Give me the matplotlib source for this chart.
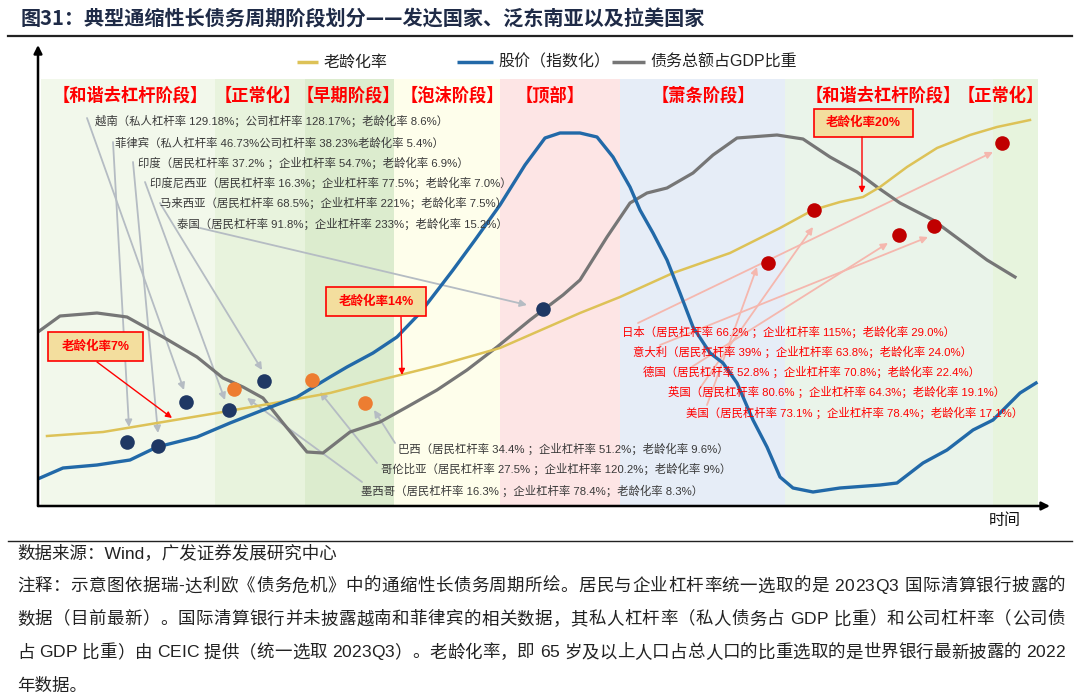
import matplotlib
matplotlib.use('Agg')
import matplotlib.pyplot as plt
from matplotlib.patches import Rectangle
from matplotlib.lines import Line2D

plt.rcParams['font.family'] = ['Liberation Sans', 'Noto Sans CJK SC']

# ---------------- data (schematic units: time 0-100, level 0-85) ----------------
aging_t = [0.9, 6.5, 12.5, 17.9, 24.2, 29.2, 34.2, 40.2, 46.2, 54.2, 58.2, 63.5, 69.2,
           74.2, 77.5, 80.2, 82.5, 84.2, 86.9, 89.9, 93.2, 95.9, 99.2]
aging_v = [14.0, 14.8, 16.8, 18.6, 20.8, 22.6, 25.2, 28.2, 31.6, 38.6, 41.8, 46.6, 50.6,
           55.6, 59.2, 60.8, 61.8, 63.8, 67.8, 71.6, 74.2, 75.8, 77.2]

stock_t = [0.2, 2.5, 5.9, 9.2, 11.9, 15.9, 19.2, 22.5, 25.9, 29.2, 30.9, 33.5, 35.9, 38.2,
           40.2, 41.5, 43.7, 46.2, 48.7, 50.7, 52.2, 54.2, 55.9, 57.5, 59.2, 60.2, 61.5,
           62.9, 64.2, 65.5, 67.2, 68.5, 69.9, 71.5, 72.9, 74.2, 75.5, 77.5, 80.2, 84.2,
           85.9, 88.5, 90.9, 93.5, 95.5, 98.2, 99.8]
stock_v = [5.6, 7.6, 8.2, 9.2, 11.8, 13.8, 16.6, 19.2, 21.8, 25.8, 27.8, 30.6, 33.8, 38.6,
           43.8, 47.2, 53.2, 60.2, 68.2, 73.6, 74.6, 74.6, 73.8, 69.8, 63.8, 59.2, 54.6,
           49.2, 42.6, 35.8, 30.6, 28.6, 24.6, 17.2, 11.8, 5.8, 3.6, 2.8, 3.6, 4.2,
           4.6, 8.6, 11.2, 15.2, 17.2, 22.6, 24.6]

debt_t = [0.0, 2.2, 5.9, 8.9, 12.5, 15.9, 18.5, 20.5, 22.5, 24.5, 26.9, 28.5, 31.2, 34.2,
          36.9, 39.9, 42.9, 45.9, 49.2, 52.5, 54.2, 56.9, 59.2, 60.9, 62.9, 65.5, 67.5,
          69.9, 73.9, 76.5, 79.2, 81.9, 83.9, 86.2, 89.5, 92.2, 94.9, 97.7]
debt_v = [34.8, 38.0, 38.6, 37.8, 33.8, 29.8, 25.6, 23.8, 21.6, 16.6, 10.8, 10.6, 14.8, 16.8,
          19.8, 23.2, 27.2, 31.8, 37.2, 42.2, 45.2, 53.8, 60.6, 62.6, 63.6, 66.6, 70.2,
          73.6, 74.2, 73.4, 69.8, 66.8, 63.8, 60.6, 57.2, 53.2, 49.2, 45.8]

# stage bands
band_edges = [0.3, 17.7, 26.7, 35.6, 46.2, 58.2, 74.7, 95.5, 100.0]
band_colors = ['#F2F8EB', '#E8F3DD', '#DCECCE', '#FEFEEB', '#FDE5E5', '#E6EDF7',
               '#EAF4EA', '#E7F4DD']
band_top = 85.4
stage_names = ['【和谐去杠杆阶段】', '【正常化】', '【早期阶段】', '【泡沫阶段】', '【顶部】',
               '【萧条阶段】', '【和谐去杠杆阶段】', '【正常化】']
stage_t = [9.2, 22.0, 31.0, 41.4, 51.2, 66.5, 84.5, 96.3]

# country points
asia_t = [8.9, 12.0, 14.8, 19.1, 22.6, 50.5]
asia_v = [12.8, 12.0, 20.8, 19.2, 25.0, 39.4]
latam_t = [19.6, 27.4, 32.7]
latam_v = [23.4, 25.2, 20.6]
dev_t = [73.0, 77.6, 86.1, 89.6, 96.4]
dev_v = [48.6, 59.2, 54.2, 56.0, 72.6]

# country labels
asia_labels = ['越南（私人杠杆率 129.18%；公司杠杆率 128.17%；老龄化率 8.6%）',
               '菲律宾（私人杠杆率 46.73%公司杠杆率 38.23%老龄化率 5.4%）',
               '印度（居民杠杆率 37.2% ；企业杠杆率 54.7%；老龄化率 6.9%）',
               '印度尼西亚（居民杠杆率 16.3%；企业杠杆率 77.5%；老龄化率 7.0%）',
               '马来西亚（居民杠杆率 68.5%；企业杠杆率 221%；老龄化率 7.5%）',
               '泰国（居民杠杆率 91.8%；企业杠杆率 233%；老龄化率 15.2%）']
asia_lab_t = [5.7, 7.7, 10.0, 11.2, 12.2, 13.9]
asia_lab_v = [77.0, 72.6, 68.6, 64.6, 60.6, 56.4]
asia_arrow_from = [(4.9, 77.6), (7.5, 72.8), (9.5, 68.8), (10.7, 64.8), (12.2, 60.6), (16.2, 55.6)]
asia_arrow_to = [(14.6, 23.2), (9.1, 15.8), (12.0, 14.6), (18.7, 21.2), (22.4, 27.2), (48.9, 40.2)]

latam_labels = ['巴西（居民杠杆率 34.4% ；企业杠杆率 51.2%；老龄化率 9.6%）',
                '哥伦比亚（居民杠杆率 27.5% ；企业杠杆率 120.2%；老龄化率 9%）',
                '墨西哥（居民杠杆率 16.3% ；企业杠杆率 78.4%；老龄化率 8.3%）']
latam_lab_t = [36.0, 34.3, 32.3]
latam_lab_v = [11.4, 7.4, 3.0]
latam_arrow_from = [(35.7, 12.6), (33.9, 8.6), (32.4, 4.8)]
latam_arrow_to = [(33.6, 19.2), (28.2, 22.8), (20.9, 21.6)]

dev_labels = ['日本（居民杠杆率 66.2% ；企业杠杆率 115%；老龄化率 29.0%）',
              '意大利（居民杠杆率 39% ；企业杠杆率 63.8%；老龄化率 24.0%）',
              '德国（居民杠杆率 52.8% ；企业杠杆率 70.8%；老龄化率 22.4%）',
              '英国（居民杠杆率 80.6% ；企业杠杆率 64.3%；老龄化率 19.1%）',
              '美国（居民杠杆率 73.1% ；企业杠杆率 78.4%；老龄化率 17.1%）']
dev_lab_t = [58.4, 59.5, 60.5, 63.0, 64.8]
dev_lab_v = [34.8, 30.8, 26.8, 22.8, 18.6]
dev_arrow_from = [(60.0, 36.6), (62.2, 32.2), (65.2, 27.6), (66.2, 23.6), (66.9, 20.2)]
dev_arrow_to = [(95.5, 70.8), (89.0, 53.8), (85.0, 52.6), (77.5, 55.8), (71.9, 47.8)]

# aging callouts
callout_text = ['老龄化率7%', '老龄化率14%', '老龄化率20%']
callout_box = [(1.0, 29.0, 9.5, 5.8), (28.8, 38.0, 10.0, 5.8), (77.6, 73.8, 9.9, 5.6)]
callout_from = [(5.9, 28.8), (36.3, 37.8), (82.4, 73.8)]
callout_to = [(13.4, 17.6), (36.4, 26.2), (82.4, 62.6)]

legend_names = ['老龄化率', '股价（指数化）', '债务总额占GDP比重']
legend_colors = ['#DDC257', '#2269A8', '#767676']
legend_line_t = [(25.9, 28.0), (41.9, 45.5), (57.4, 60.7)]
legend_v = 88.8

title = '图31：典型通缩性长债务周期阶段划分——发达国家、泛东南亚以及拉美国家'
footnotes = ['数据来源：Wind，广发证券发展研究中心',
             '注释：示意图依据瑞-达利欧《债务危机》中的通缩性长债务周期所绘。居民与企业杠杆率统一选取的是 2023Q3 国际清算银行披露的',
             '数据（目前最新）。国际清算银行并未披露越南和菲律宾的相关数据，其私人杠杆率（私人债务占 GDP 比重）和公司杠杆率（公司债',
             '占 GDP 比重）由 CEIC 提供（统一选取 2023Q3）。老龄化率，即 65 岁及以上人口占总人口的比重选取的是世界银行最新披露的 2022',
             '年数据。']
footnote_justify = [False, True, True, True, False]

# ---------------- figure ----------------
W, H = 1080, 698
fig = plt.figure(figsize=(W / 100, H / 100), dpi=100)
fig.patch.set_facecolor('white')

ax = fig.add_axes([38 / W, 1 - 506 / H, (1050 - 38) / W, (506 - 45) / H])
ax.set_xlim(0, 101.2)
ax.set_ylim(0, 92.2)
ax.axis('off')

# bands
for a, b, c in zip(band_edges[:-1], band_edges[1:], band_colors):
    ax.add_patch(Rectangle((a, 0), b - a, band_top, facecolor=c, edgecolor='none', zorder=0))

for name, t in zip(stage_names, stage_t):
    ax.text(t, 82.2, name, color='#FF0000', fontsize=12.4, fontweight='bold',
            ha='center', va='center', zorder=5)

# gray annotation arrows
arrow_gray = dict(arrowstyle='-|>', color='#B5BCC3', lw=1.3, mutation_scale=10,
                  shrinkA=0, shrinkB=0)
for f, t in zip(asia_arrow_from + latam_arrow_from, asia_arrow_to + latam_arrow_to):
    ax.annotate('', xy=t, xytext=f, arrowprops=arrow_gray, zorder=2)
arrow_red = dict(arrowstyle='-|>', color='#F5B7AE', lw=1.3, mutation_scale=10,
                 shrinkA=0, shrinkB=0)
for f, t in zip(dev_arrow_from, dev_arrow_to):
    ax.annotate('', xy=t, xytext=f, arrowprops=arrow_red, zorder=2)

# curves
ax.plot(debt_t, debt_v, color='#767676', lw=2.3, zorder=3, solid_joinstyle='round')
ax.plot(aging_t, aging_v, color='#DDC257', lw=1.8, zorder=3, solid_joinstyle='round')
ax.plot(stock_t, stock_v, color='#2269A8', lw=2.4, zorder=3, solid_joinstyle='round')

# dots
ax.plot(asia_t, asia_v, 'o', color='#1F3864', ms=10.5, zorder=4, mec='none')
ax.plot(latam_t, latam_v, 'o', color='#ED7D31', ms=10.5, zorder=4, mec='none')
ax.plot(dev_t, dev_v, 'o', color='#C00000', ms=10.5, zorder=4, mec='none')

# labels
for s, t, v in zip(asia_labels, asia_lab_t, asia_lab_v):
    ax.text(t, v, s, fontsize=8.2, color='#3A3A3A', ha='left', va='center', zorder=5)
for s, t, v in zip(latam_labels, latam_lab_t, latam_lab_v):
    ax.text(t, v, s, fontsize=8.2, color='#3A3A3A', ha='left', va='center', zorder=5)
for s, t, v in zip(dev_labels, dev_lab_t, dev_lab_v):
    ax.text(t, v, s, fontsize=8.2, color='#FF0000', ha='left', va='center', zorder=5)

# callouts
for s, (x0, y0, w, h), f, t in zip(callout_text, callout_box, callout_from, callout_to):
    ax.add_patch(Rectangle((x0, y0), w, h, facecolor='#F3DE9E', edgecolor='#FF0000',
                           lw=1.2, zorder=6))
    ax.text(x0 + w / 2, y0 + h / 2, s, color='#FF0000', fontsize=9, fontweight='bold',
            ha='center', va='center', zorder=7)
    ax.annotate('', xy=t, xytext=f,
                arrowprops=dict(arrowstyle='-|>', color='#FF0000', lw=1.0,
                                mutation_scale=9, shrinkA=0, shrinkB=0), zorder=6)

# legend
for name, c, (a, b) in zip(legend_names, legend_colors, legend_line_t):
    ax.plot([a, b], [legend_v, legend_v], color=c, lw=2.5, solid_capstyle='butt',
            clip_on=False)
    ax.text(b + 0.5, legend_v, name, fontsize=11.5, color='#222222', ha='left',
            va='center', fontweight='medium')

# axes arrows
axis_arrow = dict(arrowstyle='-|>', color='black', lw=1.8, mutation_scale=12,
                  shrinkA=0, shrinkB=0)
ax.annotate('', xy=(101.2, 0), xytext=(0, 0), arrowprops=axis_arrow,
            annotation_clip=False, zorder=8)
ax.annotate('', xy=(0, 92.2), xytext=(0, 0), arrowprops=axis_arrow,
            annotation_clip=False, zorder=8)

fig.text(1005 / W, 1 - 520 / H, '时间', fontsize=11.5, color='#111111', ha='center',
         va='center')

# title & rules
fig.text(21 / W, 1 - 19 / H, title, fontsize=14.5, fontweight='bold', color='#1F2B47',
         ha='left', va='center', family=['Noto Sans CJK SC', 'DejaVu Sans'])
fig.add_artist(Line2D([8 / W, 1072 / W], [1 - 36 / H, 1 - 36 / H], color='#222222', lw=1.6))
fig.add_artist(Line2D([8 / W, 1072 / W], [1 - 541 / H, 1 - 541 / H], color='#222222', lw=1.0))

# footnotes (justified lines like the source)
renderer = fig.canvas.get_renderer()
fn_kw = dict(fontsize=12.6, color='#222222', ha='left', va='center')
x_left, x_right = 17.0, 1065.0


def text_width(s):
    t = fig.text(0, 0, s, **fn_kw)
    w = t.get_window_extent(renderer).width
    t.remove()
    return w


for i, (s, just) in enumerate(zip(footnotes, footnote_justify)):
    y = 1 - (553 + 33.2 * i) / H
    if not just:
        fig.text(x_left / W, y, s, **fn_kw)
        continue
    total = text_width(s)
    n = len(s)
    extra = (x_right - x_left - total) / (n - 1) if n > 1 else 0
    extra = max(extra, 0)
    prefix = 0.0
    for k, ch in enumerate(s):
        if ch != ' ':
            fig.text((x_left + prefix + k * extra) / W, y, ch, **fn_kw)
        prefix = text_width(s[:k + 1]) if ch != ' ' else text_width(s[:k + 1] + 'x') - text_width('x')

fig.savefig('out.png', dpi=100, facecolor='white')
